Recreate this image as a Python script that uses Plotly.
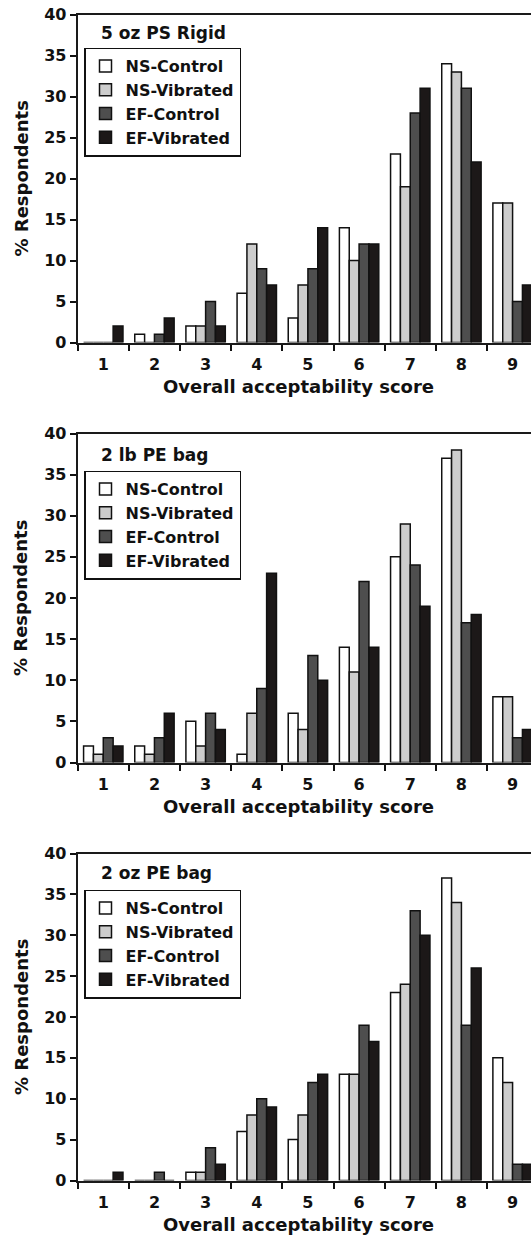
import plotly.graph_objects as go

W, H = 531, 1242

scores = [1, 2, 3, 4, 5, 6, 7, 8, 9]
score_labels = ["1", "2", "3", "4", "5", "6", "7", "8", "9"]
series_names = ["NS-Control", "NS-Vibrated", "EF-Control", "EF-Vibrated"]
panel_titles = ["5 oz PS Rigid", "2 lb PE bag", "2 oz PE bag"]

# Panel 1: 5 oz PS Rigid
ps_rigid_ns_control = [0, 1, 2, 6, 3, 14, 23, 34, 17]
ps_rigid_ns_vibrated = [0, 0, 2, 12, 7, 10, 19, 33, 17]
ps_rigid_ef_control = [0, 1, 5, 9, 9, 12, 28, 31, 5]
ps_rigid_ef_vibrated = [2, 3, 2, 7, 14, 12, 31, 22, 7]

# Panel 2: 2 lb PE bag
pe2lb_ns_control = [2, 2, 5, 1, 6, 14, 25, 37, 8]
pe2lb_ns_vibrated = [1, 1, 2, 6, 4, 11, 29, 38, 8]
pe2lb_ef_control = [3, 3, 6, 9, 13, 22, 24, 17, 3]
pe2lb_ef_vibrated = [2, 6, 4, 23, 10, 14, 19, 18, 4]

# Panel 3: 2 oz PE bag
pe2oz_ns_control = [0, 0, 1, 6, 5, 13, 23, 37, 15]
pe2oz_ns_vibrated = [0, 0, 1, 8, 8, 13, 24, 34, 12]
pe2oz_ef_control = [0, 1, 4, 10, 12, 19, 33, 19, 2]
pe2oz_ef_vibrated = [1, 0, 2, 9, 13, 17, 30, 26, 2]

panels = [
    [ps_rigid_ns_control, ps_rigid_ns_vibrated, ps_rigid_ef_control, ps_rigid_ef_vibrated],
    [pe2lb_ns_control, pe2lb_ns_vibrated, pe2lb_ef_control, pe2lb_ef_vibrated],
    [pe2oz_ns_control, pe2oz_ns_vibrated, pe2oz_ef_control, pe2oz_ef_vibrated],
]

colors = ["#ffffff", "#cdcdcd", "#4e4e4e", "#1c1818"]

FONT = "DejaVu Sans"
def bfont(size, color="#111111"):
    return dict(family=FONT, size=size, color=color, weight="bold")

def px_x(x):
    return x / W

def px_y(y):
    return 1 - y / H

# pixel geometry of the panels
tops = [14.5, 433.5, 853.5]
zeros = [342.5, 762.5, 1180.5]
legend_tops = [47.5, 470.5, 889.5]
title_y = [32.5, 454.5, 873.0]
x_left = 77.7

fig = go.Figure()
legend_keys = ["legend", "legend2", "legend3"]
for p, data in enumerate(panels):
    axn = "" if p == 0 else str(p + 1)
    for s, vals in enumerate(data):
        fig.add_trace(go.Bar(
            x=scores, y=vals, name=series_names[s],
            marker=dict(color=colors[s], line=dict(color="#111111", width=1.5)),
            xaxis="x" + axn, yaxis="y" + axn,
            legend=legend_keys[p], legendgroup=series_names[s],
        ))

layout = dict(
    width=W, height=H,
    margin=dict(l=0, r=0, t=0, b=0, autoexpand=False),
    paper_bgcolor="white", plot_bgcolor="white",
    barmode="group", bargap=0.23, bargroupgap=0,
    showlegend=True,
    annotations=[],
)

for p in range(3):
    axn = "" if p == 0 else str(p + 1)
    layout["xaxis" + axn] = dict(
        domain=[px_x(x_left), 1],
        anchor="y" + axn, automargin=False,
        range=[0.5, 9.36],
        tickmode="array", tickvals=scores, ticktext=score_labels,
        ticks="", ticklabelstandoff=6,
        tickfont=bfont(16),
        minor=dict(ticks="outside", tick0=0.5, dtick=1, ticklen=6, tickwidth=2, tickcolor="#111111"),
        showline=True, linecolor="#1a1a1a", linewidth=2, mirror=True,
        showgrid=False, zeroline=False, fixedrange=True,
    )
    layout["yaxis" + axn] = dict(
        domain=[px_y(zeros[p]), px_y(tops[p])],
        anchor="x" + axn, automargin=False,
        range=[0, 40], tickmode="linear", tick0=0, dtick=5,
        ticks="outside", ticklen=6, tickwidth=1.5, tickcolor="#111111",
        tickfont=bfont(16),
        showline=True, linecolor="#1a1a1a", linewidth=2,
        showgrid=False, zeroline=False, fixedrange=True,
    )
    layout[legend_keys[p]] = dict(
        x=px_x(84), y=px_y(legend_tops[p]), xanchor="left", yanchor="top",
        bordercolor="#111111", borderwidth=1.5, bgcolor="white",
        font=bfont(16), itemwidth=30, tracegroupgap=2,
        traceorder="normal",
    )
    layout["annotations"] += [
        dict(text=panel_titles[p], x=px_x(99), y=px_y(title_y[p]), xref="paper", yref="paper",
             xanchor="left", yanchor="middle", showarrow=False, font=bfont(17)),
        dict(text="% Respondents", x=px_x(21), y=px_y((tops[p] + zeros[p]) / 2), xref="paper", yref="paper",
             xanchor="center", yanchor="middle", textangle=-90, showarrow=False, font=bfont(18)),
        dict(text="Overall acceptability score", x=px_x(298), y=px_y(zeros[p] + 43.5), xref="paper", yref="paper",
             xanchor="center", yanchor="middle", showarrow=False, font=bfont(18)),
    ]

fig.update_layout(**layout)
fig.write_html(
    "out.html",
    config={"displayModeBar": False},
    post_script="document.body.style.margin='0';document.body.style.overflow='hidden';",
)
